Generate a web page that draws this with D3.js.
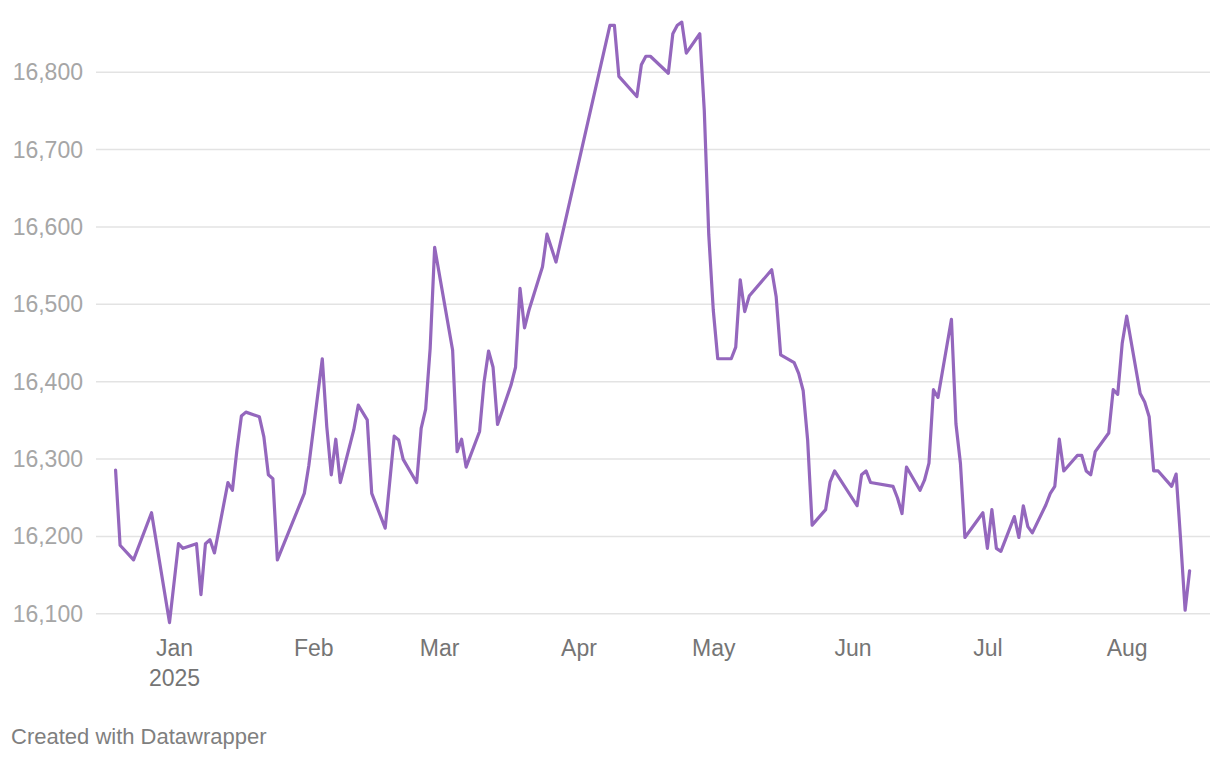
<!DOCTYPE html>
<html>
<head>
<meta charset="utf-8">
<script src="https://cdn.jsdelivr.net/npm/d3@7"></script>
<style>
  html, body { margin: 0; padding: 0; background: #fff; }
  svg { display: block; font-family: "Liberation Sans", Arial, Helvetica, sans-serif; }
</style>
</head>
<body>
<svg id="chart" width="1220" height="760"></svg>
<script>
const dates = [
  "2024-12-19","2024-12-20","2024-12-23","2024-12-27","2024-12-31",
  "2025-01-02","2025-01-03","2025-01-06","2025-01-07","2025-01-08","2025-01-09","2025-01-10",
  "2025-01-13","2025-01-14","2025-01-15","2025-01-16","2025-01-17","2025-01-20","2025-01-21",
  "2025-01-22","2025-01-23","2025-01-24","2025-01-30","2025-01-31",
  "2025-02-03","2025-02-04","2025-02-05","2025-02-06","2025-02-07","2025-02-10","2025-02-11",
  "2025-02-13","2025-02-14","2025-02-17","2025-02-19","2025-02-20","2025-02-21","2025-02-24",
  "2025-02-25","2025-02-26","2025-02-27","2025-02-28",
  "2025-03-04","2025-03-05","2025-03-06","2025-03-07","2025-03-10","2025-03-11","2025-03-12",
  "2025-03-13","2025-03-14","2025-03-17","2025-03-18","2025-03-19","2025-03-20","2025-03-21",
  "2025-03-24","2025-03-25","2025-03-27",
  "2025-04-08","2025-04-09","2025-04-10","2025-04-14","2025-04-15","2025-04-16","2025-04-17",
  "2025-04-21","2025-04-22","2025-04-23","2025-04-24","2025-04-25","2025-04-28","2025-04-29",
  "2025-04-30",
  "2025-05-01","2025-05-02","2025-05-05","2025-05-06","2025-05-07","2025-05-08","2025-05-09",
  "2025-05-14","2025-05-15","2025-05-16","2025-05-19","2025-05-20","2025-05-21","2025-05-22",
  "2025-05-23","2025-05-26","2025-05-27","2025-05-28",
  "2025-06-02","2025-06-03","2025-06-04","2025-06-05","2025-06-10","2025-06-11","2025-06-12",
  "2025-06-13","2025-06-16","2025-06-17","2025-06-18","2025-06-19","2025-06-20","2025-06-23",
  "2025-06-24","2025-06-25","2025-06-26","2025-06-30",
  "2025-07-01","2025-07-02","2025-07-03","2025-07-04","2025-07-07","2025-07-08","2025-07-09",
  "2025-07-10","2025-07-11","2025-07-14","2025-07-15","2025-07-16","2025-07-17","2025-07-18",
  "2025-07-21","2025-07-22","2025-07-23","2025-07-24","2025-07-25","2025-07-28","2025-07-29",
  "2025-07-30","2025-07-31",
  "2025-08-01","2025-08-04","2025-08-05","2025-08-06","2025-08-07","2025-08-08","2025-08-11",
  "2025-08-12","2025-08-13","2025-08-14","2025-08-15"
];
const values = [
  16285,16188,16169,16230,16088,
  16190,16184,16190,16124,16190,16195,16178,
  16269,16259,16311,16355,16360,16354,16328,
  16279,16274,16169,16255,16291,
  16429,16341,16279,16325,16269,16337,16369,
  16350,16255,16210,16329,16324,16299,16269,
  16339,16364,16442,16573,
  16440,16309,16325,16289,16335,16399,16439,
  16418,16344,16395,16418,16520,16469,16492,
  16548,16590,16554,
  16860,16860,16794,16768,16809,16820,16820,
  16798,16849,16860,16864,16824,16849,16750,
  16589,
  16492,16429,16429,16444,16531,16490,16510,
  16544,16509,16434,16424,16410,16388,16324,
  16214,16234,16270,16284,
  16239,16279,16284,16269,16264,16249,16229,
  16289,16259,16272,16294,16389,16379,16480,
  16345,16294,16198,16230,
  16184,16234,16184,16180,16225,16198,16239,
  16212,16204,16240,16255,16264,16325,16284,
  16304,16304,16284,16279,16309,16333,16389,
  16383,16449,
  16484,16384,16373,16354,16284,16284,16264,
  16280,16195,16104,16155
];
const yTicks = [16100, 16200, 16300, 16400, 16500, 16600, 16700, 16800];
const xTickDates = ["2025-01-01","2025-02-01","2025-03-01","2025-04-01","2025-05-01","2025-06-01","2025-07-01","2025-08-01"];
const xTickLabels = ["Jan","Feb","Mar","Apr","May","Jun","Jul","Aug"];
const yearLabel = "2025";
const footerText = "Created with Datawrapper";

const parse = d3.utcParse("%Y-%m-%d");
const data = dates.map((d, i) => ({ date: parse(d), value: values[i] }));

const svg = d3.select("#chart");

const x = d3.scaleUtc()
  .domain([parse("2025-01-01"), parse("2025-08-01")])
  .range([174, 1126.7]);
const y = d3.scaleLinear()
  .domain([16100, 16800])
  .range([613.3, 71.7]);

const gridLeft = 96, gridRight = 1210;

// y grid + labels
const yAxis = d3.axisLeft(y)
  .tickValues(yTicks)
  .tickSize(-(gridRight - gridLeft))
  .tickPadding(13)
  .tickFormat(d3.format(","));
const gy = svg.append("g")
  .attr("transform", `translate(${gridLeft},0)`)
  .call(yAxis);
gy.select(".domain").remove();
gy.selectAll(".tick line")
  .attr("stroke", "#e3e3e3")
  .attr("stroke-width", 1.5);
gy.selectAll(".tick text")
  .attr("fill", "#a6a6a6")
  .attr("font-size", 23)
  .attr("dy", "0.35em")
  .attr("font-family", "'Liberation Sans', Arial, sans-serif");

// x axis labels
const xAxis = d3.axisBottom(x)
  .tickValues(xTickDates.map(parse))
  .tickSize(0)
  .tickPadding(0)
  .tickFormat((d, i) => xTickLabels[i]);
const gx = svg.append("g")
  .call(xAxis);
gx.select(".domain").remove();
gx.selectAll(".tick text")
  .attr("fill", "#757575")
  .attr("font-size", 23)
  .attr("y", 656)
  .attr("dy", 0)
  .attr("font-family", "'Liberation Sans', Arial, sans-serif");
gx.selectAll(".tick")
  .filter((d, i) => i === 0)
  .append("text")
  .attr("fill", "#757575")
  .attr("font-size", 23)
  .attr("text-anchor", "middle")
  .attr("y", 686)
  .attr("font-family", "'Liberation Sans', Arial, sans-serif")
  .text(yearLabel);

// line
const line = d3.line()
  .x(d => x(d.date))
  .y(d => y(d.value));
svg.append("path")
  .datum(data)
  .attr("fill", "none")
  .attr("stroke", "#9467bd")
  .attr("stroke-width", 3.2)
  .attr("stroke-linejoin", "round")
  .attr("stroke-linecap", "round")
  .attr("d", line);

// footer
svg.append("text")
  .attr("x", 11)
  .attr("y", 744.3)
  .attr("fill", "#7f7f7f")
  .attr("font-size", 22)
  .text(footerText);
</script>
</body>
</html>
